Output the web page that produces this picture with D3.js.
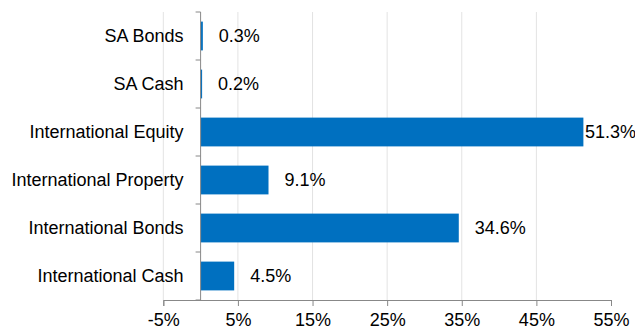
<!DOCTYPE html>
<html>
<head>
<meta charset="utf-8">
<script src="https://cdn.jsdelivr.net/npm/d3@7"></script>
<style>
  body { margin: 0; background: #fff; }
  text { font-family: "Liberation Sans", Arial, sans-serif; fill: #000; }
</style>
</head>
<body>
<div id="chart"></div>
<script>
// data
const categories = ["SA Bonds", "SA Cash", "International Equity", "International Property", "International Bonds", "International Cash"];
const values = [0.3, 0.2, 51.3, 9.1, 34.6, 4.5];
const xTicks = [-5, 5, 15, 25, 35, 45, 55];

const width = 635, height = 332;
const margin = {top: 12, right: 24, bottom: 32, left: 200.6};
const fontSize = "18px";

const svg = d3.select("#chart").append("svg")
    .attr("width", width)
    .attr("height", height);

const x = d3.scaleLinear()
    .domain([-5, 55])
    .range([163.3, 611]);

const y = d3.scaleBand()
    .domain(categories)
    .range([margin.top, height - margin.bottom])
    .paddingInner(0.4)
    .paddingOuter(0.2);

// gridlines
svg.append("g")
    .selectAll("line")
    .data(xTicks.filter(d => d !== 0 && d < 55))
    .join("line")
        .attr("x1", d => x(d)).attr("x2", d => x(d))
        .attr("y1", margin.top).attr("y2", height - margin.bottom)
        .style("stroke", "#e3e3e3")
        .style("stroke-width", 1);

// bars
svg.append("g")
    .selectAll("rect")
    .data(categories)
    .join("rect")
        .attr("x", x(0))
        .attr("y", d => y(d))
        .attr("width", (d, i) => x(values[i]) - x(0))
        .attr("height", y.bandwidth())
        .attr("fill", "#0070c0");

// value labels
svg.append("g")
    .selectAll("text")
    .data(categories)
    .join("text")
        .attr("y", d => y(d) + y.bandwidth() / 2)
        .attr("dy", "0.36em")
        .style("font-size", fontSize)
        .text((d, i) => values[i].toFixed(1) + "%")
        .attr("x", function(d, i) {
            const w = this.getComputedTextLength();
            const px = x(values[i]) + 16;
            return px + w > width ? x(values[i]) + 1.5 : px;
        });

// x axis
const xAxis = svg.append("g")
    .attr("transform", `translate(0,${height - margin.bottom})`)
    .call(d3.axisBottom(x).tickValues(xTicks).tickSize(6).tickPadding(7).tickFormat(d => d + "%"));
xAxis.select(".domain").attr("stroke", "#888");
xAxis.selectAll(".tick line").attr("stroke", "#888");
xAxis.selectAll(".tick text").style("font-size", fontSize).style("font-family", "Liberation Sans, Arial, sans-serif");

// y axis: ticks between categories
const yAxis = svg.append("g");
yAxis.append("line")
    .attr("x1", x(0)).attr("x2", x(0))
    .attr("y1", margin.top).attr("y2", height - margin.bottom)
    .attr("stroke", "#888");
const step = y.step();
yAxis.selectAll("line.tk")
    .data(d3.range(categories.length + 1))
    .join("line")
        .attr("class", "tk")
        .attr("x1", x(0) - 5).attr("x2", x(0))
        .attr("y1", i => margin.top + i * step).attr("y2", i => margin.top + i * step)
        .attr("stroke", "#888");
yAxis.selectAll("text")
    .data(categories)
    .join("text")
        .attr("x", x(0) - 17)
        .attr("y", d => y(d) + y.bandwidth() / 2)
        .attr("dy", "0.36em")
        .attr("text-anchor", "end")
        .style("font-size", fontSize)
        .text(d => d);
</script>
</body>
</html>
